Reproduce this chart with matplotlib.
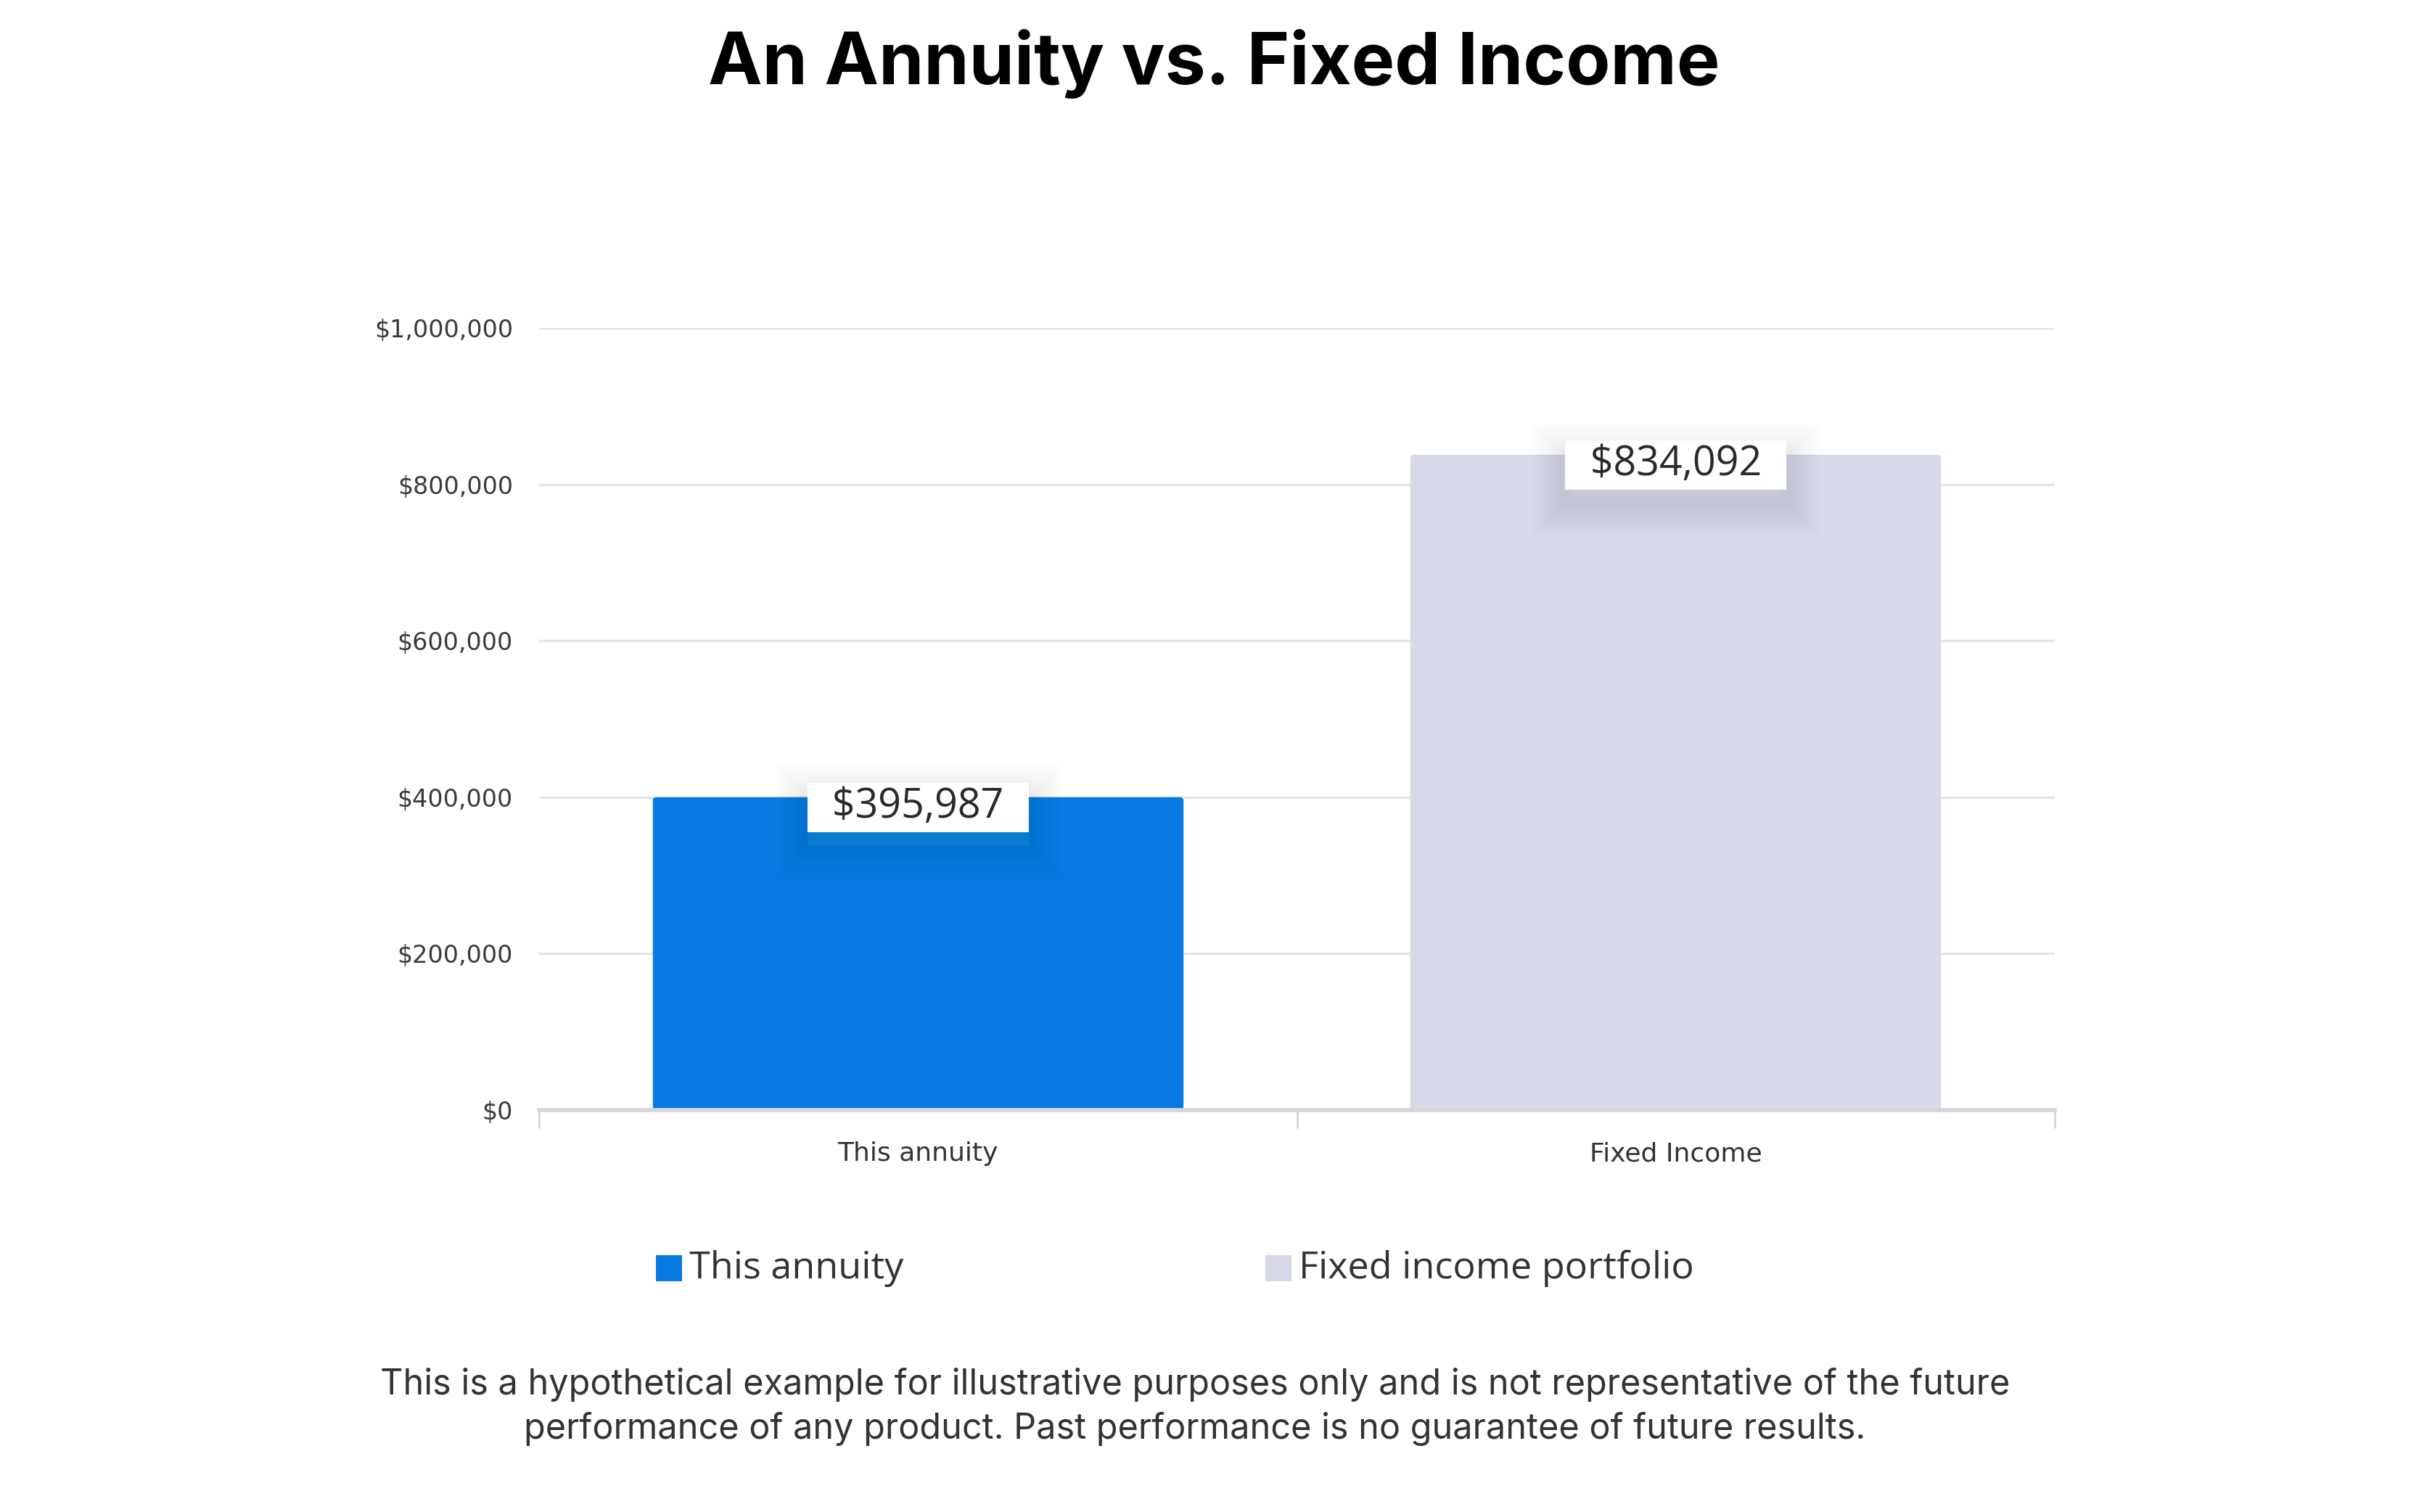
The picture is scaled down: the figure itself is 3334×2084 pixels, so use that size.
import numpy as np
import matplotlib
matplotlib.use("Agg")
import matplotlib.pyplot as plt
from matplotlib.patches import Rectangle
from matplotlib import patheffects as pe
from matplotlib.ticker import FuncFormatter

# data
categories = ["This annuity", "Fixed Income"]
values = [395987, 834092]
bar_colors = ["#087BE3", "#D8D9E8"]
legend_labels = ["This annuity", "Fixed income portfolio"]
yticks = [0, 200000, 400000, 600000, 800000, 1000000]

title = "An Annuity vs. Fixed Income"
footnote = ("This is a hypothetical example for illustrative purposes only and is not representative of the future\n"
            "performance of any product. Past performance is no guarantee of future results.")

W, H = 3334, 2084
fig = plt.figure(figsize=(W / 100, H / 100), dpi=100)
fig.patch.set_facecolor("white")

ax = fig.add_axes([743 / W, 1 - 1530 / H, (2832 - 743) / W, (1530 - 452) / H])
x = np.arange(len(categories))
bars = ax.bar(x, values, width=0.692, color=bar_colors, edgecolor=bar_colors,
              linewidth=6, joinstyle="round", zorder=3)

ax.set_xlim(-0.5, 1.5)
ax.set_ylim(0, 1000000)
ax.set_yticks(yticks)
ax.yaxis.set_major_formatter(FuncFormatter(lambda v, p: f"${v:,.0f}"))
ax.grid(axis="y", color="#E6E6EA", linewidth=2.5, zorder=0)
ax.set_axisbelow(True)

for s in ["top", "right", "left"]:
    ax.spines[s].set_visible(False)
ax.spines["bottom"].set_color("#D5D5DC")
ax.spines["bottom"].set_linewidth(4)
ax.spines["bottom"].set_zorder(4)

ax.tick_params(axis="y", length=0, pad=26, labelsize=24, labelcolor="#3A3A3A")
for lab in ax.get_yticklabels():
    lab.set_fontfamily("DejaVu Sans")

# category labels, small ticks on band edges
ax.set_xticks(x)
ax.set_xticklabels(categories, fontsize=26, color="#333333", fontfamily="DejaVu Sans")
ax.tick_params(axis="x", length=0, pad=31)
ax.set_xticks([-0.5, 0.5, 1.5], minor=True)
ax.tick_params(axis="x", which="minor", length=18, width=2, color="#D5D5DC")

# value labels in white boxes with soft shadow
shadow = [pe.Stroke(linewidth=lw, foreground="black", alpha=0.006, offset=(0, -14))
          for lw in range(64, 4, -6)]
for xi, v in zip(x, values):
    t = ax.annotate(f"  ${v:,.0f}  ", (xi, v), xytext=(0, -7), textcoords="offset points",
                    ha="center", va="center", fontsize=40, color="#2A2A2A",
                    fontfamily="Open Sans", zorder=6,
                    bbox=dict(boxstyle="square,pad=0.1", fc="white", ec="none"))
    t.get_bbox_patch().set_path_effects(shadow + [pe.Normal()])

# title
fig.text(0.502, 1 - 88 / H, title, ha="center", va="center", fontsize=72,
         fontweight="bold", fontfamily="Inter", color="black")

# legend
leg_y = 1748
leg_items = [(904, legend_labels[0], bar_colors[0]), (1744, legend_labels[1], bar_colors[1])]
for px, lab, col in leg_items:
    sq = 36
    fig.add_artist(Rectangle((px / W, 1 - (leg_y + sq / 2) / H), sq / W, sq / H,
                             transform=fig.transFigure, facecolor=col, edgecolor="none"))
    fig.text((px + sq + 10) / W, 1 - leg_y / H, lab, ha="left", va="center",
             fontsize=37.5, color="#333333", fontfamily="Open Sans")

# footnote
fig.text(0.494, 1 - 1939 / H, footnote, ha="center", va="center", fontsize=35,
         color="#333333", fontfamily="Inter", linespacing=1.4)

fig.savefig("out.png", dpi=100, facecolor="white")
